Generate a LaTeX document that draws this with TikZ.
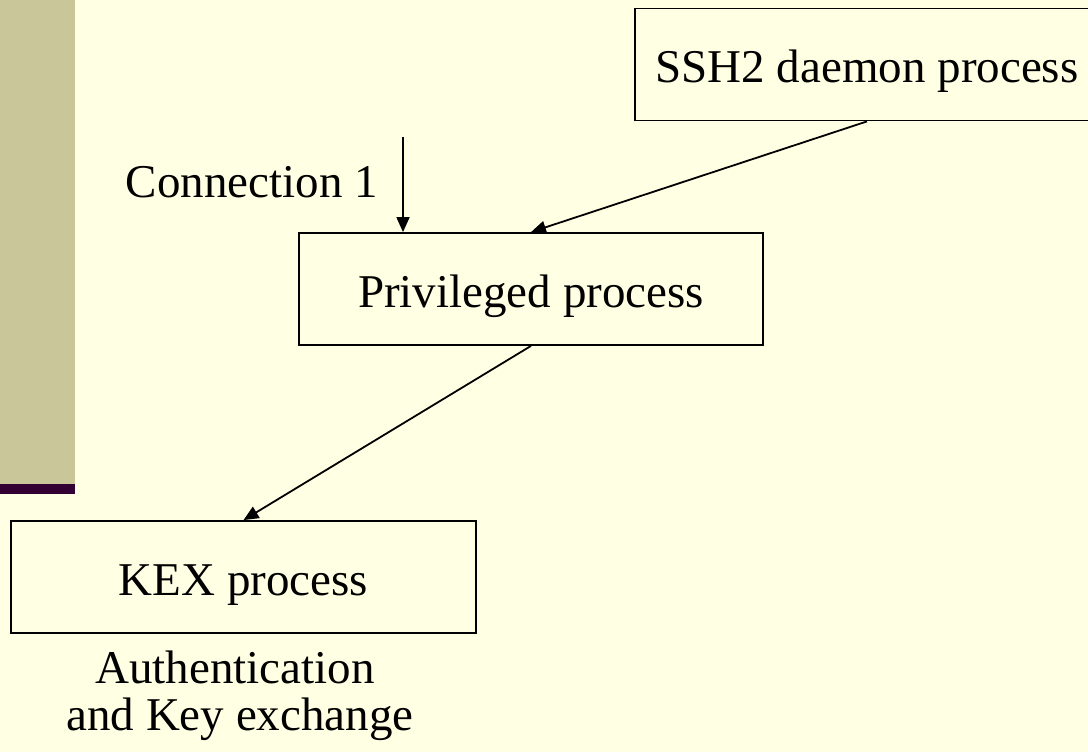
\documentclass[tikz,border=0pt]{standalone}
\usepackage{fontspec}
\setmainfont{Liberation Serif}
\usetikzlibrary{arrows.meta}
\definecolor{paper}{HTML}{FFFFE3}
\definecolor{olive}{HTML}{C9C699}
\definecolor{plum}{HTML}{330033}
\tikzset{
  procbox/.style={draw=black, line width=1.8pt, fill=paper, inner sep=0pt,
    minimum width=464pt, minimum height=112pt,
    text height=36pt, text depth=0pt,
    font=\fontsize{47}{47}\selectfont},
  caption/.style={inner sep=0pt, anchor=base, font=\fontsize{47}{47}\selectfont},
  link/.style={line width=1.8pt, -{Triangle[length=15pt,width=13pt]}}
}
\begin{document}
\begin{tikzpicture}[x=1pt, y=-1pt]
  % page and side band
  \useasboundingbox (0,0) rectangle (1088,752);
  \fill[paper] (0,0) rectangle (1088,752);
  \fill[olive] (0,0) rectangle (75,484);
  \fill[plum] (0,484) rectangle (75,494);
  \clip (0,0) rectangle (1088,752);

  % processes
  \node[procbox] (ssh)  at (867,64.5) {SSH2 daemon process};
  \node[procbox] (priv) at (531,289)  {Privileged process};
  \node[procbox, minimum width=465pt] (kex) at (243.5,577) {KEX process};

  % labels
  \node[caption, anchor=base east] (conlabel) at (378,197) {Connection 1};
  \node[caption] (auth1) at (235,683) {Authentication};
  \node[caption] (auth2) at (240,730) {and Key exchange};

  % connectors
  \coordinate (conn) at (403,137);
  \draw[link] (conn) -- (conn |- priv.north);
  \draw[link] (ssh.south) -- (priv.north);
  \draw[link] (priv.south) -- (kex.north);
\end{tikzpicture}
\end{document}
